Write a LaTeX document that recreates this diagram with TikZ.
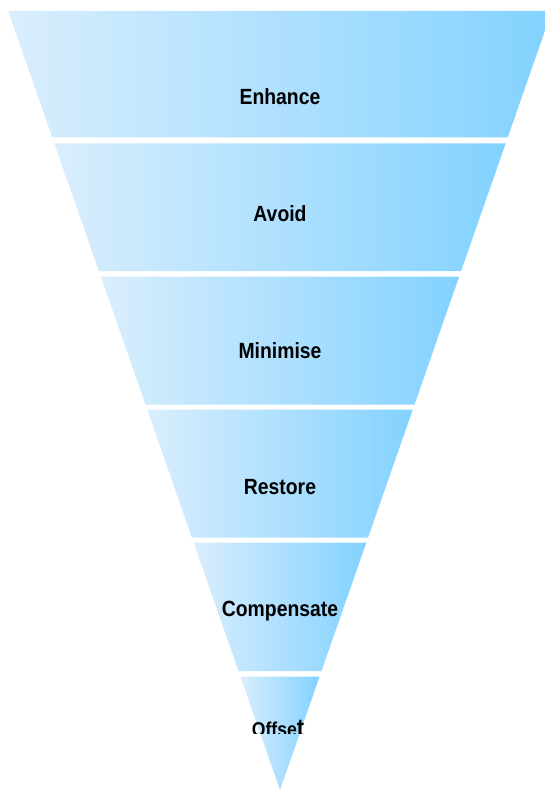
\documentclass[tikz,border=0pt]{standalone}
\usepackage{graphicx}
\usepackage{fontspec}
\setmainfont{Liberation Sans}
\definecolor{bandL}{RGB}{218,238,253}
\definecolor{bandR}{RGB}{130,210,255}
\newcommand{\narrowtxt}[1]{\scalebox{0.88}[1]{#1}}
\begin{document}
\begin{tikzpicture}[x=1pt,y=-1pt,
  band/.style={left color=bandL,right color=bandR,draw=none},
  lab/.style={font=\bfseries\fontsize{22}{26}\selectfont, inner sep=0pt, anchor=base, text=black}]
\useasboundingbox (0,0) rectangle (545,791);
\clip (0,0) rectangle (545,791);
\foreach \t/\b in {11/137.5, 143.5/271, 276.5/404.5, 409.5/537.5, 542.5/671, 676.5/790}{
  \path[band] ({280-0.349*(790-\t)},\t) -- ({280+0.349*(790-\t)},\t)
    -- ({280+0.349*(790-\b)},\b) -- ({280-0.349*(790-\b)},\b) -- cycle;
}
\node[lab] (enhance) at (280,105) {\narrowtxt{Enhance}};
\node[lab] (avoid) at (280,222) {\narrowtxt{Avoid}};
\node[lab] (minimise) at (280,358) {\narrowtxt{Minimise}};
\node[lab] (restore) at (280,494) {\narrowtxt{Restore}};
\node[lab] (compensate) at (280,616) {\narrowtxt{Compensate}};
\begin{scope}
  \clip (200,700) rectangle (360,733);
  \node[lab, font=\bfseries] (offset) at (278,736)
    {\narrowtxt{\fontsize{20}{22}\selectfont Offse\fontsize{25}{27}\selectfont t}};
\end{scope}
\end{tikzpicture}
\end{document}
